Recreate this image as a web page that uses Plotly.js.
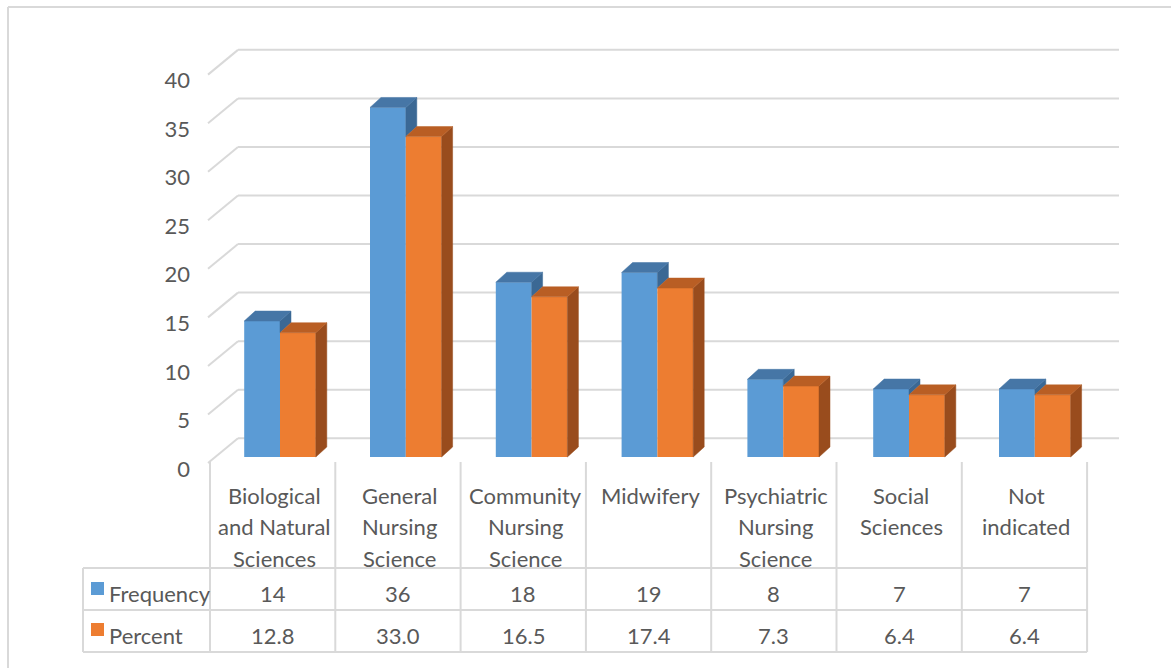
<!DOCTYPE html>
<html>
<head>
<meta charset="utf-8">
<script src="https://cdn.plot.ly/plotly-3.0.1.min.js"></script>
<style>
  html, body { margin: 0; padding: 0; background: #ffffff; }
  #chart { width: 1171px; height: 668px; }
</style>
</head>
<body>
<div id="chart"></div>
<script>
// ---- data ----
const categories = [
  "Biological<br>and Natural<br>Sciences",
  "General<br>Nursing<br>Science",
  "Community<br>Nursing<br>Science",
  "Midwifery",
  "Psychiatric<br>Nursing<br>Science",
  "Social<br>Sciences",
  "Not<br>indicated"
];
const seriesNames = ["Frequency", "Percent"];
const frequency = [14, 36, 18, 19, 8, 7, 7];
const percent = [12.8, 33.0, 16.5, 17.4, 7.3, 6.4, 6.4];
const yTicks = [0, 5, 10, 15, 20, 25, 30, 35, 40];

// ---- look ----
const W = 1171, H = 668;
const TEXT = "#595959";
const GRID = "#D9D9D9";
const FONT = "Lato, 'Open Sans', sans-serif";
const FS = 22;
const colors = {
  front: ["#5B9BD5", "#ED7D31"],
  top:   ["#4676A6", "#B95E24"],
  side:  ["#3B6894", "#994C1D"]
};

// pixel frame of the bar plane: category 0 centre and value 0 baseline
const X0PX = 280, CATPX = 125.8;
const Y0PX = 457, UNITPX = 9.71;
const xr = p => (p - X0PX) / CATPX;          // pixel -> x data
const BAR_W = 35.8 / CATPX;                 // one bar, in category units
const DX = 11 / CATPX, DY = 10 / UNITPX;    // depth of a bar
const BACK = 1.93, FRONT = -0.62;           // wall offsets, in value units
const WALL_L = xr(238), WALL_R = xr(1119), EDGE = xr(208);

// table columns
const TAB_L = 83, COL0 = 210, COLW = 125.3;
const ROW_CAT = 462, ROW_F = 568, ROW_P = 610, ROW_END = 652;

const px = x => x / W;
const py = y => 1 - y / H;

const idx = categories.map((_, i) => i);
const series = [frequency, percent];

// faces of the 3D columns, built from the values
function topFaces(vals, off) {
  const xs = [], ys = [];
  vals.forEach((v, i) => {
    const a = i + off, b = a + BAR_W;
    xs.push(a, b, b + DX, a + DX, a, null);
    ys.push(v, v, v + DY, v + DY, v, null);
  });
  return { xs, ys };
}
function sideFaces(vals, off, floorVals) {
  const xs = [], ys = [];
  vals.forEach((v, i) => {
    const b = i + off + BAR_W;
    const lo = floorVals ? Math.min(floorVals[i], v) : 0;
    xs.push(b, b, b + DX, b + DX, b, null);
    ys.push(lo, v, v + DY, lo + DY, lo, null);
  });
  return { xs, ys };
}

const traces = [];
const offsets = [-BAR_W, 0];
series.forEach((vals, s) => {
  traces.push({
    type: "bar", name: seriesNames[s], x: idx, y: vals,
    offset: offsets[s], width: BAR_W,
    marker: { color: colors.front[s], line: { width: 0 } },
    hoverinfo: "skip", showlegend: false
  });
});
series.forEach((vals, s) => {
  // the blue side face is hidden below the top of the orange column beside it
  const side = sideFaces(vals, offsets[s], s === 0 ? percent : null);
  const top = topFaces(vals, offsets[s]);
  [[side, colors.side[s]], [top, colors.top[s]]].forEach(([f, c]) => {
    traces.push({
      type: "scatter", mode: "lines", x: f.xs, y: f.ys,
      fill: "toself", fillcolor: c, line: { color: c, width: 0.5 },
      hoverinfo: "skip", showlegend: false
    });
  });
});
// carrier for the value axis labels
traces.push({ type: "scatter", x: [0], y: [0], yaxis: "y2", mode: "markers",
  marker: { opacity: 0 }, hoverinfo: "skip", showlegend: false });

const shapes = [];
const line = (x0, y0, x1, y1, extra) => Object.assign({
  type: "line", x0, y0, x1, y1, layer: "below",
  line: { color: GRID, width: 2 }
}, extra);

// back-wall gridlines and the side-wall diagonals
yTicks.forEach(v => {
  shapes.push(line(WALL_L, v + BACK, WALL_R, v + BACK, { xref: "x", yref: "y" }));
  shapes.push(line(EDGE, v + FRONT, WALL_L, v + BACK, { xref: "x", yref: "y" }));
});

// outer frame
shapes.push(line(px(8), py(7), px(W), py(7), { xref: "paper", yref: "paper" }));
shapes.push(line(px(8), py(7), px(8), py(H), { xref: "paper", yref: "paper" }));

// data table grid
[ROW_F, ROW_P, ROW_END].forEach(y =>
  shapes.push(line(px(TAB_L), py(y), px(COL0 + COLW * categories.length), py(y),
    { xref: "paper", yref: "paper" })));
shapes.push(line(px(TAB_L), py(ROW_F), px(TAB_L), py(ROW_END), { xref: "paper", yref: "paper" }));
for (let i = 0; i <= categories.length; i++) {
  const x = COL0 + COLW * i;
  shapes.push(line(px(x), py(ROW_CAT), px(x), py(ROW_END), { xref: "paper", yref: "paper" }));
}
// legend keys
const keyY = [[582, 595], [623, 636]];
seriesNames.forEach((_, s) => {
  shapes.push({ type: "rect", xref: "paper", yref: "paper", layer: "below",
    x0: px(91), x1: px(104), y0: py(keyY[s][0]), y1: py(keyY[s][1]),
    fillcolor: colors.front[s], line: { width: 0 } });
});

const annotations = [];
const txt = (text, x, y, xanchor) => ({
  text, xref: "paper", yref: "paper", x: px(x), y: py(y),
  xanchor: xanchor || "center", yanchor: "middle", showarrow: false,
  font: { family: FONT, size: FS, color: TEXT }
});
categories.forEach((c, i) => {
  const cx = COL0 + COLW * (i + 0.5);
  c.split("<br>").forEach((ln, k) => annotations.push(txt(ln, cx + 2, 495 + 31.5 * k)));
  annotations.push(txt(String(frequency[i]), cx, 593));
  annotations.push(txt(percent[i].toFixed(1), cx, 635));
});
annotations.push(txt(seriesNames[0], 107, 593, "left"));
annotations.push(txt(seriesNames[1], 107, 635, "left"));

const layout = {
  width: W, height: H,
  margin: { l: 0, r: 0, t: 0, b: 0 },
  paper_bgcolor: "#ffffff", plot_bgcolor: "rgba(0,0,0,0)",
  barmode: "overlay",
  font: { family: FONT, color: TEXT },
  xaxis: { range: [xr(0), xr(W)], visible: false, fixedrange: true },
  yaxis: { range: [(Y0PX - H) / UNITPX, Y0PX / UNITPX], visible: false, fixedrange: true },
  yaxis2: {
    overlaying: "y", anchor: "free", position: px(190), side: "left",
    range: [(469 - H) / 9.72, 469 / 9.72],
    tickvals: yTicks, ticks: "", showgrid: false, zeroline: false, showline: false,
    tickfont: { family: FONT, size: FS, color: TEXT }, fixedrange: true
  },
  shapes, annotations, showlegend: false
};

Plotly.newPlot("chart", traces, layout, { displayModeBar: false, staticPlot: true });
</script>
</body>
</html>
